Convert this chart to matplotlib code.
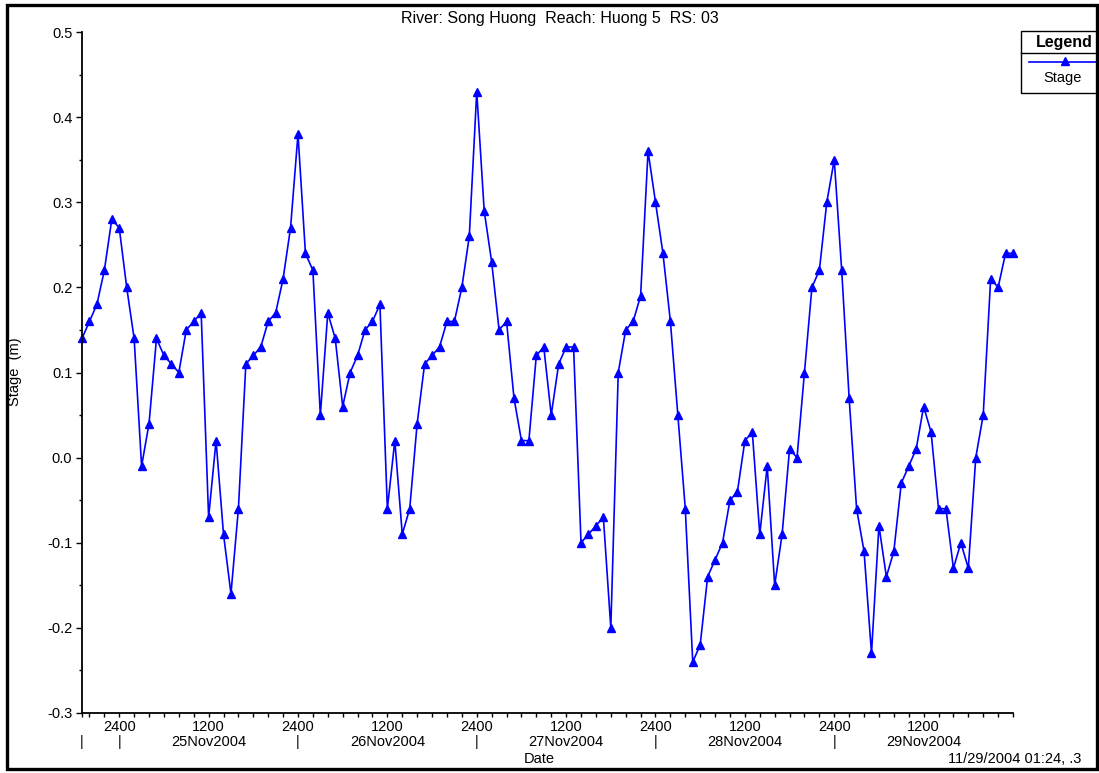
import numpy as np
import matplotlib.pyplot as plt
from matplotlib.patches import Rectangle
from matplotlib.lines import Line2D

plt.rcParams['font.family'] = ['Liberation Sans', 'DejaVu Sans']

# Hourly stage readings, starting 24Nov2004 1900
start_hour = 19
stage = [
    0.14, 0.16, 0.18, 0.22, 0.28, 0.27, 0.20, 0.14, -0.01, 0.04,
    0.14, 0.12, 0.11, 0.10, 0.15, 0.16, 0.17, -0.07, 0.02, -0.09,
    -0.16, -0.06, 0.11, 0.12, 0.13, 0.16, 0.17, 0.21, 0.27, 0.38,
    0.24, 0.22, 0.05, 0.17, 0.14, 0.06, 0.10, 0.12, 0.15, 0.16,
    0.18, -0.06, 0.02, -0.09, -0.06, 0.04, 0.11, 0.12, 0.13, 0.16,
    0.16, 0.20, 0.26, 0.43, 0.29, 0.23, 0.15, 0.16, 0.07, 0.02,
    0.02, 0.12, 0.13, 0.05, 0.11, 0.13, 0.13, -0.10, -0.09, -0.08,
    -0.07, -0.20, 0.10, 0.15, 0.16, 0.19, 0.36, 0.30, 0.24, 0.16,
    0.05, -0.06, -0.24, -0.22, -0.14, -0.12, -0.10, -0.05, -0.04, 0.02,
    0.03, -0.09, -0.01, -0.15, -0.09, 0.01, 0.00, 0.10, 0.20, 0.22,
    0.30, 0.35, 0.22, 0.07, -0.06, -0.11, -0.23, -0.08, -0.14, -0.11,
    -0.03, -0.01, 0.01, 0.06, 0.03, -0.06, -0.06, -0.13, -0.10, -0.13,
    0.00, 0.05, 0.21, 0.20, 0.24, 0.24,
]
hours = start_hour + np.arange(len(stage))

# x tick labels (hours since 24Nov2004 0000)
tick_hours = [19, 24, 36, 48, 60, 72, 84, 96, 108, 120, 132]
tick_labels = ['\n|', '2400\n|', '1200\n25Nov2004', '2400\n|', '1200\n26Nov2004',
               '2400\n|', '1200\n27Nov2004', '2400\n|', '1200\n28Nov2004',
               '2400\n|', '1200\n29Nov2004']
y_ticks = [-0.3, -0.2, -0.1, 0.0, 0.1, 0.2, 0.3, 0.4, 0.5]

title = 'River: Song Huong  Reach: Huong 5  RS: 03'
series_name = 'Stage'
stamp = '11/29/2004 01:24, .3'

W, H = 1099, 773
fig = plt.figure(figsize=(W / 100, H / 100), dpi=100)
ax = fig.add_axes([82 / W, 1 - 713 / H, (1013 - 82) / W, (713 - 32) / H])

blue = '#0000ff'
ax.plot(hours, stage, color=blue, lw=1.2, marker='^', ms=5.5,
        mfc=blue, mec=blue, clip_on=False)

fs = 10.5
ax.set_xlim(hours[0], hours[-1])
ax.set_ylim(-0.3, 0.5)
ax.set_xticks(tick_hours)
ax.set_xticklabels(tick_labels, fontsize=fs, linespacing=1.1)
ax.set_xticks(np.arange(20, hours[-1] + 1, 2), minor=True)
ax.set_yticks(y_ticks)
ax.set_yticklabels([f'{v:.1f}' for v in y_ticks], fontsize=fs)
ax.set_yticks(np.arange(-0.25, 0.5, 0.1), minor=True)

ax.tick_params(axis='x', which='both', length=3, width=1, direction='out', pad=2)
ax.tick_params(axis='y', which='major', length=4, width=1, pad=3)
ax.tick_params(axis='y', which='minor', length=2.5, width=1)
for s in ['top', 'right']:
    ax.spines[s].set_visible(False)
for s in ['left', 'bottom']:
    ax.spines[s].set_linewidth(1.3)

fig.text(560 / W, 1 - 19 / H, title, ha='center', va='center', fontsize=11.5)
fig.text(15 / W, 1 - 372 / H, 'Stage  (m)', rotation=90, ha='center',
         va='center', fontsize=fs)
fig.text(539 / W, 1 - 759 / H, 'Date', ha='center', va='center', fontsize=fs)
fig.text(948 / W, 1 - 759 / H, stamp, ha='left', va='center', fontsize=fs)

# legend box, cut off by the right border like the original
tr = fig.transFigure
fig.patches.append(Rectangle((1021 / W, 1 - 93 / H), 100 / W, 62 / H,
                             transform=tr, fill=False, ec='black', lw=1))
fig.lines.append(Line2D([1021 / W, 1.05], [1 - 53 / H] * 2, transform=tr,
                        color='black', lw=1))
fig.lines.append(Line2D([1029 / W, 1.05], [1 - 62 / H] * 2, transform=tr,
                        color=blue, lw=1.2))
fig.lines.append(Line2D([1065 / W], [1 - 61 / H], transform=tr, marker='^',
                        ms=5.5, color=blue, lw=0))
fig.text(1064 / W, 1 - 42 / H, 'Legend', ha='center', va='center',
         fontsize=11.5, fontweight='bold')
fig.text(1063 / W, 1 - 78 / H, series_name, ha='center', va='center', fontsize=fs)

# outer frame
fig.patches.append(Rectangle((1096.5 / W, 0), 5 / W, 1, transform=tr,
                             color='white', zorder=9))
fig.patches.append(Rectangle((6.5 / W, 1 - 768.5 / H), 1090 / W, 764 / H,
                             transform=tr, fill=False, ec='black', lw=2.4, zorder=10))

fig.savefig('out.png', dpi=100)
